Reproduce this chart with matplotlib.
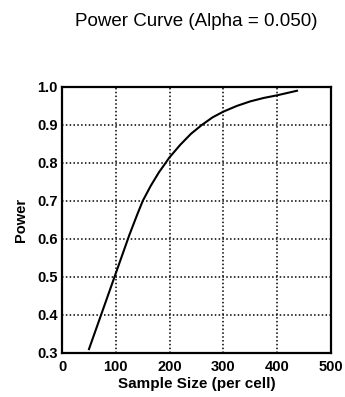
import matplotlib
matplotlib.use("Agg")
import matplotlib.pyplot as plt

# Valeurs
sample_size = [50, 60, 75, 90, 100, 110, 125, 140, 150, 165, 180, 200, 220, 240,
               260, 280, 300, 325, 350, 375, 400, 437]
power = [0.31, 0.35, 0.41, 0.47, 0.51, 0.55, 0.61, 0.665, 0.70, 0.74, 0.775, 0.815,
         0.848, 0.877, 0.90, 0.92, 0.935, 0.95, 0.962, 0.971, 0.978, 0.99]

x_ticks = [0, 100, 200, 300, 400, 500]
y_ticks = [0.3, 0.4, 0.5, 0.6, 0.7, 0.8, 0.9, 1.0]

plt.rcParams['font.family'] = ['Liberation Sans', 'DejaVu Sans']

fig = plt.figure(figsize=(3.45, 3.97), dpi=100)
ax = fig.add_axes([0.18, 0.111, 0.779, 0.67])

ax.plot(sample_size, power, color='black', lw=1.5)

ax.set_xlim(0, 500)
ax.set_ylim(0.3, 1.0)
ax.set_xticks(x_ticks)
ax.set_yticks(y_ticks)
ax.set_xticklabels([str(t) for t in x_ticks], fontweight='bold', fontsize=10.5)
ax.set_yticklabels(['%.1f' % t for t in y_ticks], fontweight='bold', fontsize=10.5)
ax.tick_params(axis='x', length=0, pad=5)
ax.tick_params(axis='y', length=0, pad=3)
ax.grid(True, color='black', linestyle=(0, (1, 1.5)), lw=1.1)

for s in ax.spines.values():
    s.set_linewidth(1.6)

ax.set_xlabel('Sample Size (per cell)', fontweight='bold', fontsize=11, labelpad=2)
ax.set_ylabel('Power', fontweight='bold', fontsize=10.5, labelpad=7)
fig.text(0.568, 0.945, 'Power Curve (Alpha = 0.050)', ha='center', va='center', fontsize=13.5)

fig.savefig('out.png', dpi=100)
